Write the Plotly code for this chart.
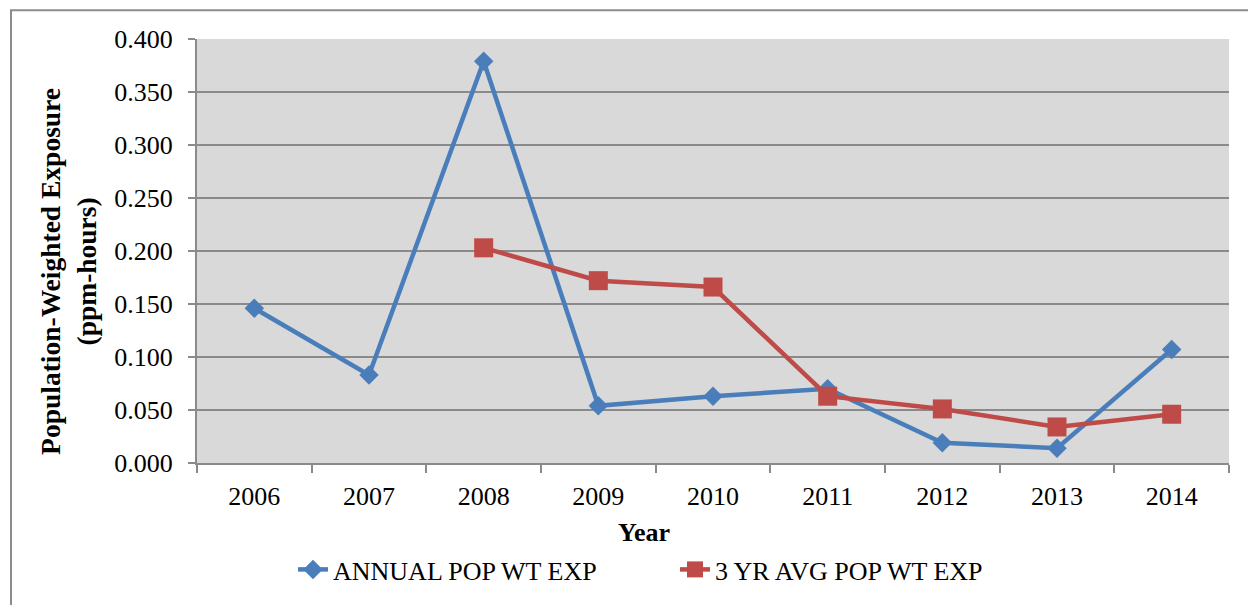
import plotly.graph_objects as go

years = ["2006", "2007", "2008", "2009", "2010", "2011", "2012", "2013", "2014"]
annual = [0.146, 0.083, 0.379, 0.054, 0.063, 0.070, 0.019, 0.014, 0.107]
avg3_years = ["2008", "2009", "2010", "2011", "2012", "2013", "2014"]
avg3 = [0.203, 0.172, 0.166, 0.063, 0.051, 0.034, 0.046]

FONT = "Liberation Serif, Times New Roman, serif"
BLUE = "#4a7ebb"
RED = "#be4b48"
GRID = "#8a8a8a"

fig = go.Figure()
fig.add_trace(go.Scatter(
    x=years, y=annual, mode="lines+markers", name="ANNUAL POP WT EXP",
    line=dict(color=BLUE, width=4.5),
    marker=dict(symbol="diamond", size=15, color=BLUE),
))
fig.add_trace(go.Scatter(
    x=avg3_years, y=avg3, mode="lines+markers", name="3 YR AVG POP WT EXP",
    line=dict(color=RED, width=4.5),
    marker=dict(symbol="square", size=19, color=RED),
))

W, H = 1248, 605
L, R, T, B = 197, 19, 39, 140
pw, ph = W - L - R, H - T - B

def px(x):
    return (x - L) / pw

def py(y):
    return (H - B - y) / ph

fig.update_layout(
    width=W, height=H,
    margin=dict(l=L, r=R, t=T, b=B),
    paper_bgcolor="white",
    plot_bgcolor="#d9d9d9",
    font=dict(family=FONT, size=26, color="black"),
    showlegend=True,
    legend=dict(
        orientation="h", x=px(293), y=py(572), xanchor="left", yanchor="middle",
        font=dict(family=FONT, size=26, color="black"), bgcolor="rgba(0,0,0,0)",
        entrywidth=337, entrywidthmode="pixels", tracegroupgap=0,
    ),
    xaxis=dict(
        type="category", tickson="boundaries", ticks="outside", ticklen=8,
        tickcolor=GRID, tickwidth=2, showline=True, linecolor=GRID, linewidth=2,
        showgrid=False, tickfont=dict(family=FONT, size=26, color="black"),
        ticklabelstandoff=9,
        range=[-0.5, 8.5], fixedrange=True,
    ),
    yaxis=dict(
        range=[0, 0.4], dtick=0.05, tickformat=".3f", ticks="outside", ticklen=7,
        tickcolor=GRID, tickwidth=2, showline=True, linecolor=GRID, linewidth=2,
        showgrid=True, gridcolor=GRID, gridwidth=2, zeroline=False,
        tickfont=dict(family=FONT, size=26, color="black"),
        ticklabelstandoff=10,
    ),
    annotations=[
        dict(text="<b>Population-Weighted Exposure<br>(ppm-hours)</b>",
             xref="paper", yref="paper", x=px(69), y=py(273), textangle=-90,
             showarrow=False, font=dict(family=FONT, size=27.5, color="black"),
             xanchor="center", yanchor="middle"),
        dict(text="<b>Year</b>", xref="paper", yref="paper", x=px(643.5), y=py(535),
             showarrow=False, font=dict(family=FONT, size=26, color="black"),
             xanchor="center", yanchor="middle"),
    ],
    shapes=[
        dict(type="rect", xref="paper", yref="paper", x0=px(11), x1=px(1260), y0=py(620), y1=py(10),
             line=dict(color="#8c8c8c", width=2), fillcolor="rgba(0,0,0,0)", layer="below"),
    ],
)

fig.write_html("out.html", config={"displayModeBar": False},
               post_script="document.body.style.margin='0';")
